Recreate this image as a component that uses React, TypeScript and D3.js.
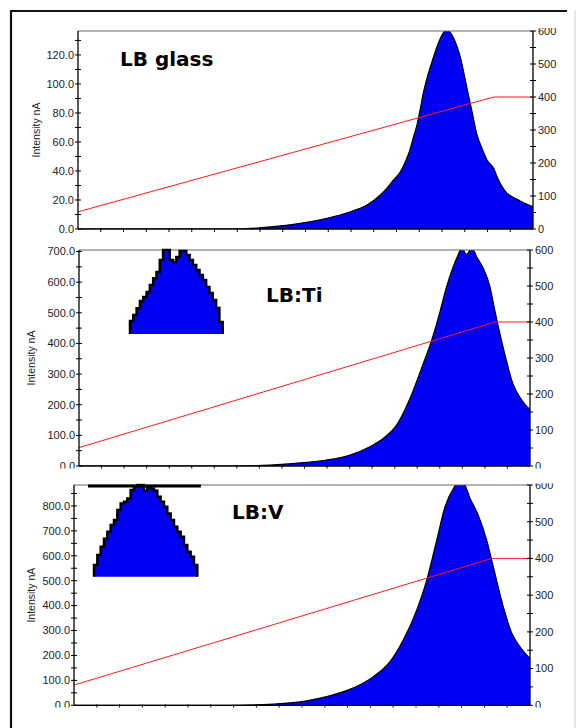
import React from "react";
import * as d3 from "d3";

// glow curves: time (channel 0-200) vs intensity (nA)
const glassTime = [0, 70, 84.5, 97.7, 109.5, 119.7, 127, 132.9, 135.8, 138.7, 141.7, 143.9, 146.1, 147.5, 149, 150.5, 151.9, 153.4, 155.6, 157.8, 159.3, 160.7, 162.2, 163.6, 165.8, 168, 169.5, 171, 173.2, 175.4, 177.6, 179.8, 182.7, 184.2, 186.4, 188.6, 190.8, 194.4, 197.4, 200];
const glassIntensity = [0, 0, 1.4, 3.9, 7.4, 11.9, 16.5, 23.4, 28.1, 33.8, 39.5, 46.4, 55.6, 63.6, 71.7, 83.2, 94.7, 103.9, 115.3, 125.7, 131.5, 135.6, 137, 135.6, 129.1, 118.8, 108.4, 97, 80.9, 64.8, 55.6, 47.6, 41.8, 36.1, 29.2, 24.6, 22.3, 19.3, 17, 15.4];

const tiTime = [0, 70, 84.7, 101, 109.8, 120.2, 129, 134.9, 140.9, 146.8, 151.9, 156.4, 160.1, 163, 166, 168.2, 169.7, 171.9, 174.1, 176.5, 179.3, 182.2, 184.5, 188.2, 192.6, 196.3, 200];
const tiIntensity = [0, 0, 3, 12, 19.6, 36, 63, 90, 134, 221, 319, 411, 504, 585, 651, 690, 712, 690, 712, 680, 645, 586, 504, 384, 265, 215, 183];

const vTime = [0, 70, 87.4, 102, 110.8, 121, 131.3, 138.6, 144.4, 150.3, 154.7, 159.1, 162.7, 166.4, 168.6, 170.8, 173.7, 177.3, 181, 183.9, 188.3, 192, 195.6, 200];
const vIntensity = [0, 0, 5, 18, 35, 64, 115, 175, 262, 382, 502, 663, 796, 870, 895, 892, 830, 763, 663, 556, 395, 289, 235, 188];

// heating ramp (right axis)
const glassRampTime = [0, 182.7, 200];
const glassRampTemp = [52, 400, 400];
const tiRampTime = [0, 184.5, 200];
const tiRampTemp = [51, 400, 400];
const vRampTime = [0, 183.2, 200];
const vRampTemp = [55, 400, 400];

// stepped inset glitches (step heights)
const tiInset = [0, 13, 19, 25.7, 33, 37, 42, 49, 55.7, 62, 74, 84, 84, 74, 72, 77, 83, 83, 79, 74, 69, 64, 59, 54, 47, 41, 34, 26, 12, 0];
const vInset = [0, 11.7, 21.7, 30, 38, 45, 51.7, 56.7, 66.7, 73.3, 75, 78.3, 86.7, 90, 91.7, 91.7, 86, 90, 88.3, 86, 80, 75, 70, 63.3, 56.7, 50, 45, 40, 31.7, 25, 20, 11.7, 0];
const vInsetBar = [-1.8, 32.1];

const panels = [
  {
    id: "g", title: "LB glass", time: glassTime, values: glassIntensity,
    rampT: glassRampTime, rampV: glassRampTemp, yMax: 136.5, major: 20,
    left: 78, right: 533, top: 31, bottom: 229, clip: [28, 238],
    tx: 120, ty: 66, labelX: 36,
  },
  {
    id: "t", title: "LB:Ti", time: tiTime, values: tiIntensity,
    rampT: tiRampTime, rampV: tiRampTemp, yMax: 705, major: 100,
    left: 79, right: 530, top: 250, bottom: 466, clip: [238, 468.5],
    tx: 266, ty: 302, labelX: 31,
    inset: { data: tiInset, x0: 130, x1: 222.7, top: 250, bottom: 334, max: 84 },
  },
  {
    id: "v", title: "LB:V", time: vTime, values: vIntensity,
    rampT: vRampTime, rampV: vRampTemp, yMax: 884, major: 100,
    left: 74, right: 530, top: 485, bottom: 705.3, clip: [483.3, 707.5],
    tx: 232, ty: 519, labelX: 31,
    inset: { data: vInset, x0: 94, x1: 197.3, top: 485, bottom: 576.7, max: 91.7, bar: vInsetBar },
  },
];

const tickFont = "'Liberation Sans', Arial, sans-serif";

const Inset = ({ inset }) => {
  const n = inset.data.length - 2;
  const x = d3.scaleLinear().domain([0, n]).range([inset.x0, inset.x1]);
  const y = d3.scaleLinear().domain([0, inset.max]).range([inset.bottom, inset.top]);
  const pts = inset.data.map((v, i) => [Math.max(0, i - 1), v]);
  pts[pts.length - 1] = [n, 0];
  const area = d3.area().x(d => x(d[0])).y0(y(0)).y1(d => y(d[1])).curve(d3.curveStepAfter);
  const line = d3.line().x(d => x(d[0])).y(d => y(d[1])).curve(d3.curveStepAfter);
  return (
    <g>
      <path d={area(pts)} fill="#0000f5" />
      <path d={line(pts)} fill="none" stroke="#000" strokeWidth={2.5} />
      {inset.bar && (
        <line x1={x(inset.bar[0])} x2={x(inset.bar[1])} y1={y(inset.max) + 1} y2={y(inset.max) + 1}
          stroke="#000" strokeWidth={3} />
      )}
    </g>
  );
};

const Panel = ({ p }) => {
  const x = d3.scaleLinear().domain([0, 200]).range([p.left, p.right]);
  const yL = d3.scaleLinear().domain([0, p.yMax]).range([p.bottom, p.top]);
  const yR = d3.scaleLinear().domain([0, 600]).range([p.bottom, p.top]);
  const data = p.time.map((t, i) => [t, p.values[i]]);
  const ramp = p.rampT.map((t, i) => [t, p.rampV[i]]);
  const area = d3.area().x(d => x(d[0])).y0(yL(0)).y1(d => yL(d[1])).curve(d3.curveMonotoneX);
  const outline = d3.line().x(d => x(d[0])).y(d => yL(d[1])).curve(d3.curveMonotoneX);
  const rampLine = d3.line().x(d => x(d[0])).y(d => yR(d[1]));
  const fmt = d3.format(".1f");
  const leftMinor = d3.range(0, p.yMax, p.major / 2);
  const leftMajor = d3.range(0, p.yMax, p.major);
  const rightMinor = d3.range(0, 601, 50);
  const rightMajor = d3.range(0, 601, 100);
  const xTicks = d3.range(10, 200, 10);
  const mid = (p.top + p.bottom) / 2;
  return (
    <g clipPath={`url(#clip-${p.id})`}>
      <defs>
        <clipPath id={`plot-${p.id}`}>
          <rect x={p.left} y={p.top} width={p.right - p.left} height={p.bottom - p.top} />
        </clipPath>
      </defs>
      <g clipPath={`url(#plot-${p.id})`}>
        <path d={area(data)} fill="#0000f5" />
        <path d={outline(data)} fill="none" stroke="#000" strokeWidth={1.2} />
        <path d={rampLine(ramp)} fill="none" stroke="#ff1a1a" strokeWidth={1} />
      </g>
      <line x1={p.left} x2={p.right} y1={p.top} y2={p.top} stroke="#666" strokeWidth={1} />
      <line x1={p.left} x2={p.left} y1={p.top} y2={p.bottom} stroke="#000" strokeWidth={1.3} />
      <line x1={p.right} x2={p.right} y1={p.top} y2={p.bottom} stroke="#000" strokeWidth={1.3} />
      <line x1={p.left} x2={p.right} y1={p.bottom} y2={p.bottom} stroke="#000" strokeWidth={1.3} />
      {leftMinor.map(v => (
        <line key={`lm${v}`} x1={p.left - 3} x2={p.left + 3} y1={yL(v)} y2={yL(v)} stroke="#000" />
      ))}
      {leftMajor.map(v => (
        <text key={`lt${v}`} x={p.left - 4} y={yL(v)} dy="0.35em" textAnchor="end"
          fontFamily={tickFont} fontSize={11} fill="#222">{fmt(v)}</text>
      ))}
      {rightMinor.map(v => (
        <line key={`rm${v}`} x1={p.right - 3} x2={p.right + 3} y1={yR(v)} y2={yR(v)} stroke="#000" />
      ))}
      {rightMajor.map(v => (
        <text key={`rt${v}`} x={p.right + 5} y={yR(v)} dy="0.35em" textAnchor="start"
          fontFamily={tickFont} fontSize={11} fill="#222">{v}</text>
      ))}
      {xTicks.map(t => (
        <line key={`x${t}`} x1={x(t)} x2={x(t)} y1={p.bottom - 1} y2={p.bottom + 3} stroke="#000" />
      ))}
      <text transform={`translate(${p.labelX},${mid}) rotate(-90)`} textAnchor="middle" dy="0.35em"
        fontFamily={tickFont} fontSize={10.5} fill="#222">Intensity nA</text>
      <text x={p.tx} y={p.ty} fontFamily="'DejaVu Sans', sans-serif" fontWeight="bold" fontSize={20} fill="#000">
        {p.title}
      </text>
      {p.inset && <Inset inset={p.inset} />}
    </g>
  );
};

export default function App() {
  return (
    <svg width={576} height={728} style={{ position: "absolute", left: 0, top: 0, background: "#fff" }}>
      <defs>
        {panels.map(p => (
          <clipPath key={p.id} id={`clip-${p.id}`}>
            <rect x={0} y={p.clip[0]} width={576} height={p.clip[1] - p.clip[0]} />
          </clipPath>
        ))}
      </defs>
      <rect x={0} y={0} width={576} height={728} fill="#fff" />
      {panels.map(p => <Panel key={p.id} p={p} />)}
      <line x1={11} x2={11} y1={10} y2={728} stroke="#111" strokeWidth={2.2} />
      <line x1={10} x2={567} y1={11} y2={11} stroke="#111" strokeWidth={2.2} />
      <line x1={575} x2={575} y1={10} y2={728} stroke="#ccc" strokeWidth={1} />
    </svg>
  );
}
